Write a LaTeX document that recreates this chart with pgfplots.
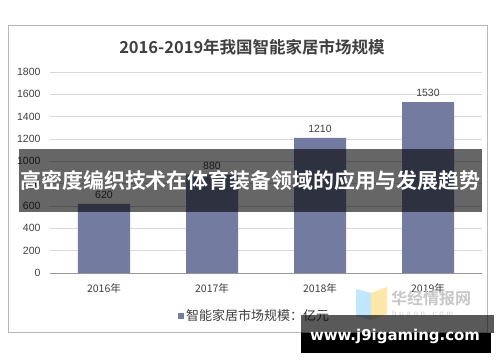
\documentclass[border=0pt]{standalone}
\usepackage{pgfplots}
\pgfplotsset{compat=1.18}
\usepackage{fontspec}
\setmainfont{Liberation Sans}
\newfontfamily\cjk{Noto Sans CJK SC}
\newfontfamily\cjkb{Noto Sans CJK SC Bold}
\definecolor{barc}{HTML}{737CA0}
\definecolor{gridc}{HTML}{D9D9D9}
\definecolor{txt}{HTML}{404040}
\begin{document}
\begin{tikzpicture}[x=1pt,y=1pt]
\useasboundingbox (0,0) rectangle (500,362);
\fill[white] (0,0) rectangle (500,362);
\draw[color=black!28, line width=0.8pt] (8,30) rectangle (487,337);
\node[text=txt, font=\cjkb\fontsize{16.5}{18}\selectfont] at (252,315) {2016-2019年我国智能家居市场规模};
\begin{axis}[
  at={(50pt,89pt)}, anchor=south west,
  scale only axis, width=432pt, height=201pt,
  xmin=-0.5, xmax=3.5, ymin=0, ymax=1800,
  ytick={0,200,...,1800},
  xtick={0,1,2,3},
  xticklabels={2016年,2017年,2018年,2019年},
  x tick label style={font=\cjk\fontsize{10.5}{12}\selectfont, text=txt, yshift=-3pt},
  y tick label style={font=\fontsize{10.5}{12}\selectfont, text=txt, xshift=-6pt},
  /pgf/number format/assume math mode=true,
  /pgf/number format/1000 sep={},
  major x tick style={draw=none},
  major y tick style={draw=none},
  extra x ticks={-0.5,0.5,1.5,2.5,3.5},
  extra x tick labels={},
  extra x tick style={major tick length=4pt, tick style={draw=gridc!70!black, line width=0.6pt}, tick align=outside, grid=none},
  ymajorgrids, grid style={draw=gridc, line width=0.8pt},
  axis x line*=bottom, axis y line*=left,
  x axis line style={draw=gridc!70!black, line width=0.6pt, -},
  y axis line style={draw=none},
  ybar, bar width=52pt,
  nodes near coords,
  every node near coord/.append style={font=\fontsize{10.5}{12}\selectfont, text=txt, yshift=2pt},
  clip=false,
]
\addplot[fill=barc, draw=none] coordinates {(0,620) (1,880) (2,1210) (3,1530)};
\end{axis}
% legend
\fill[barc] (177.5,43) rectangle (183.5,49);
\node[anchor=west, text=txt, font=\cjk\fontsize{13}{14}\selectfont, inner sep=0pt] at (186,46) {智能家居市场规模：亿元};
% huaon logo
\fill[blue!40!cyan!30, opacity=0.8] (356,73) -- (371,69) -- (371,42) -- (356,46) -- cycle;
\fill[yellow!50!orange!40, opacity=0.8] (371,69) -- (387,75) -- (387,48) -- (371,42) -- cycle;
\node[anchor=west, text=black!22, font=\cjkb\fontsize{16}{18}\selectfont, inner sep=0pt] at (391,64) {华经情报网};
\node[anchor=west, text=black!18, font=\fontsize{8}{9}\selectfont, inner sep=0pt] at (392,48) {h\,\,u\,\,a\,\,o\,\,n\,\,.\,\,c\,\,o\,\,m};
% banner
\fill[black, opacity=0.6] (19,150) rectangle (482,213);
\node[text=white, inner sep=0pt] at (250.5,181) {\resizebox{460pt}{!}{\cjkb 高密度编织技术在体育装备领域的应用与发展趋势}};
% bottom watermark
\fill[black, opacity=0.65] (301,29) rectangle (494,47);
\fill[black] (301,9) rectangle (491,29);
\node[text=white, inner sep=0pt] at (395,26) {\resizebox{170pt}{!}{\bfseries\fontspec{DejaVu Sans}www.j9igaming.com}};
\end{tikzpicture}
\end{document}
